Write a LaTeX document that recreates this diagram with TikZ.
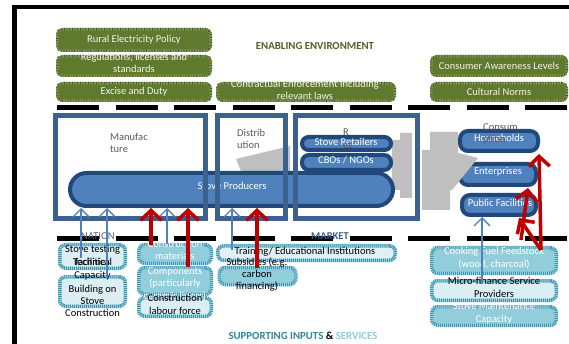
\documentclass[tikz,border=0pt]{standalone}
\usepackage{fontspec}
\setmainfont{Carlito}
\usetikzlibrary{arrows.meta}

\definecolor{envfill}{RGB}{95,122,47}
\definecolor{envlite}{RGB}{160,178,110}
\definecolor{envdark}{RGB}{70,92,32}
\definecolor{envtext}{RGB}{242,244,232}
\definecolor{envtitle}{RGB}{79,98,40}
\definecolor{frameblue}{RGB}{60,97,142}
\definecolor{pillfill}{RGB}{79,129,189}
\definecolor{pilledge}{RGB}{33,72,122}
\definecolor{arrowblue}{RGB}{79,129,189}
\definecolor{arrowred}{RGB}{192,0,0}
\definecolor{flowgray}{RGB}{191,191,191}
\definecolor{labelgray}{RGB}{89,89,89}
\definecolor{supmidfill}{RGB}{146,205,220}
\definecolor{suplightfill}{RGB}{219,238,244}
\definecolor{tealdark}{RGB}{62,150,176}
\definecolor{teallite}{RGB}{170,216,228}
\definecolor{supdark}{RGB}{49,133,155}

\begin{document}
\begin{tikzpicture}[x=1pt,y=-1pt,
  font=\fontsize{10.5}{12.6}\selectfont,
  envbox/.style={rounded corners=5pt, fill=envfill, draw=envlite, line width=2.4pt,
    postaction={draw=envdark, line width=2.4pt, dash pattern=on 0.8pt off 0.8pt},
    inner sep=0pt, text=envtext, align=center},
  envtxt/.style={inner sep=0pt, text=envtext, align=center},
  supbox/.style={rounded corners=6pt, draw=teallite, line width=3.5pt,
    postaction={draw=tealdark, line width=3.5pt, dash pattern=on 1pt off 1pt},
    inner sep=0pt},
  suplight/.style={supbox, fill=suplightfill},
  supmid/.style={supbox, fill=supmidfill},
  suptxt/.style={inner sep=0pt, align=center, text=black},
  supwhite/.style={inner sep=0pt, align=center, text=white},
  pill/.style={fill=pillfill, draw=pilledge, line width=4pt, inner sep=0pt},
  pilltxt/.style={inner sep=0pt, text=white, align=center},
  frame/.style={draw=frameblue, line width=5pt},
  framelbl/.style={inner sep=0pt, text=labelgray, align=left, anchor=west},
  sepline/.style={line width=4.5pt, dash pattern=on 42pt off 16.5pt},
  bluearrow/.style={draw=arrowblue, line width=1.3pt, -{Straight Barb[length=8pt,width=16pt]}},
  redarrow/.style={draw=arrowred, line width=3.5pt, -{Straight Barb[length=10pt,width=21pt]}},
  flow/.style={fill=flowgray, draw=none}
]
% canvas
\fill[white] (0,0) rectangle (569,344);
\useasboundingbox (0,0) rectangle (569,344);
\draw[line width=4pt] (12,7) -- (569,7);
\draw[line width=4.5pt] (14.5,5) -- (14.5,344);

% enabling environment
\node[envbox, minimum width=153.6pt, minimum height=21.6pt] (pol) at (134,40) {Rural Electricity Policy};
\node[envbox, minimum width=153.6pt, minimum height=19.6pt] (reg) at (134,66) {};
\node[envtxt] (regt) at (134,63) {Regulations, licenses and\\standards};
\node[envbox, minimum width=153.6pt, minimum height=17.6pt] (exc) at (134,92) {Excise and Duty};
\node[envbox, minimum width=177.6pt, minimum height=17.6pt] (con) at (306,92) {};
\node[envtxt] (cont) at (305,90) {Contractual Enforcement including\\relevant laws};
\node[envbox, minimum width=135.6pt, minimum height=19.6pt] (awa) at (499,66) {Consumer Awareness Levels};
\node[envbox, minimum width=135.6pt, minimum height=17.6pt] (cul) at (499,92) {Cultural Norms};
\node[inner sep=0pt, text=envtitle, font=\fontsize{10.8}{12}\selectfont\bfseries] (envtitle) at (315,46) {ENABLING ENVIRONMENT};

% dashed separators
\coordinate (topl) at (57,107.5);
\coordinate (topr) at (569,107.5);
\coordinate (botl) at (57,238.5);
\coordinate (botr) at (569,238.5);
\draw[sepline] (topl) -- (topr);
\draw[sepline] (botl) -- (botr);

% grey flow shapes behind the chain
\fill[flow] (236,159) -- (290,146) -- (290,171) -- (241,171) -- cycle;
\fill[flow] (392,140) -- (400,140) -- (400,133) -- (412,133) -- (412,198) -- (400,198) -- (400,190) -- (392,190) -- cycle;

% market chain actors
\node[pill, rounded corners=16.5pt, minimum width=323pt, minimum height=33pt] (prod) at (231.5,189.5) {};
\node[pilltxt] (prodt) at (232,186) {Stove Producers};
\node[pill, rounded corners=6.5pt, minimum width=89pt, minimum height=13pt] (ret) at (346.5,143.5) {};
\node[pilltxt] (rett) at (346,142) {Stove Retailers};
\node[pill, rounded corners=7pt, minimum width=89pt, minimum height=15pt] (cbo) at (346.5,162.5) {};
\node[pilltxt] (cbot) at (346,160) {CBOs / NGOs};

% stage frames
\draw[frame] (55.5,115.5) rectangle (205.5,218.5);
\draw[frame] (217.5,115.5) rectangle (285.5,218.5);
\draw[frame] (295.5,115.5) rectangle (417.5,218.5);
\node[framelbl] (manl) at (110,143) {Manufac\\ture};
\node[framelbl] (disl) at (237,139) {Distrib\\ution};
\node[framelbl] (retl) at (343,138.5) {R\\et};

% consumption
\node[pill, rounded corners=8pt, minimum width=76pt, minimum height=21pt] (ent) at (498,174.5) {};
\node[pilltxt] (entt) at (498,172) {Enterprises};
\fill[flow] (430,132) -- (458,132) -- (458,153) -- (478,158) -- (452,190) -- (450,190) -- (450,210) -- (422,210) -- (422,150) -- (430,150) -- cycle;
\node[pill, rounded corners=8pt, minimum width=78pt, minimum height=20pt] (hh) at (499,141) {};
\node[pilltxt] (hht) at (499,138) {Households};
\node[pill, rounded corners=8pt, minimum width=74pt, minimum height=20pt] (pub) at (499,205) {};
\node[pilltxt] (pubt) at (500,203) {Public Facilities};
\node[framelbl] (conl) at (483,134) {Consum\\ption};

% supporting inputs and services
\node[inner sep=0pt, text=arrowblue!60!white, font=\fontsize{10.5}{12.6}\selectfont\bfseries] (chain) at (330,250) {CHAIN};
\node[suplight, minimum width=65.5pt, minimum height=23.5pt] (stt) at (92.5,256.5) {};
\node[suplight, minimum width=65.5pt, minimum height=29.5pt] (bld) at (92.5,291.5) {};
\node[supmid, minimum width=72.5pt, minimum height=18.5pt] (cmat) at (175,254) {};
\node[supmid, minimum width=72.5pt, minimum height=26.5pt] (comp) at (175,281) {};
\node[suplight, minimum width=72.5pt, minimum height=18.5pt] (lab) at (175,307) {};
\node[suplight, fill opacity=0.85, minimum width=177.5pt, minimum height=14.5pt] (trn) at (306.5,253) {};
\node[supmid, minimum width=76.5pt, minimum height=17pt] (sub) at (257.5,276) {};
\node[supmid, minimum width=124.5pt, minimum height=25.5pt] (fuel) at (494,260.5) {};
\node[suplight, minimum width=124.5pt, minimum height=19.5pt] (mfs) at (494,290.5) {};
\node[supmid, minimum width=124.5pt, minimum height=18.5pt] (smc) at (494,316) {};

\node[suptxt] (sttt) at (92.5,255.5) {Stove testing\\facilities};
\node[suptxt] (tect) at (92.5,269) {Technical\\Capacity};
\node[suptxt, font=\fontsize{10.5}{12}\selectfont] (bldt) at (92.5,301) {Building on\\Stove\\Construction};
\node[supwhite] (cmatt) at (175,250) {Construction\\materials};
\node[supwhite] (compt) at (175,284) {Components\\(particularly\\ceramic liners)};
\node[suptxt] (labt) at (175,304.5) {Construction\\labour force};
\node[suptxt] (trnt) at (305,252) {Training/ Educational Institutions};
\node[suptxt, font=\fontsize{10.5}{12}\selectfont] (subt) at (257,274.5) {Subsidies (e.g.\\carbon\\financing)};
\node[supwhite] (fuelt) at (494,258) {Cooking Fuel Feedstock\\(wood, charcoal)};
\node[suptxt] (mfst) at (494,287.5) {Micro-finance Service\\Providers};
\node[supwhite] (smct) at (494,313.5) {Stove Maintenance\\Capacity};

% level labels on the lower separator
\node[inner sep=0pt, text=labelgray!80!arrowblue] (natl) at (98,236) {NATION};
\node[inner sep=0pt, text=frameblue, font=\fontsize{10.5}{12.6}\selectfont\bfseries] (mktl) at (330,236) {MARKET};

% inputs feeding the chain
\coordinate (b1) at (81,258);
\coordinate (b2) at (107,278);
\coordinate (b3) at (167,244);
\coordinate (b4) at (232,250);
\coordinate (b5) at (482,284);
\draw[bluearrow] (b1) -- (b1 |- prod.south);
\draw[bluearrow] (b2) -- (b2 |- prod.south);
\draw[bluearrow] (b3) -- (b3 |- prod.south);
\draw[bluearrow] (b4) -- (b4 |- prod.south);
\draw[bluearrow] (b5) -- (b5 |- pub.south);

\coordinate (r1) at (151,245);
\coordinate (r2) at (188,267);
\coordinate (r3) at (257,268);
\coordinate (r4) at (541,250);
\coordinate (r5) at (521,240);
\coordinate (h4) at (539,154);
\coordinate (h5) at (528,188);
\coordinate (h6) at (519,218);
\draw[redarrow] (r1) -- (r1 |- prod.south);
\draw[redarrow] (r2) -- (r2 |- prod.south);
\draw[redarrow] (r3) -- (r3 |- prod.south);
\draw[redarrow] (r4) -- (h4);
\draw[redarrow] (r5) -- (h5);
\draw[redarrow] (r4) -- (h6);

% bottom title
\node[inner sep=0pt, font=\fontsize{10.8}{12}\selectfont\bfseries] (suptitle) at (303,336)
  {\textcolor{supdark}{SUPPORTING INPUTS} \& \textcolor{supmidfill}{SERVICES}};
\end{tikzpicture}
\end{document}
